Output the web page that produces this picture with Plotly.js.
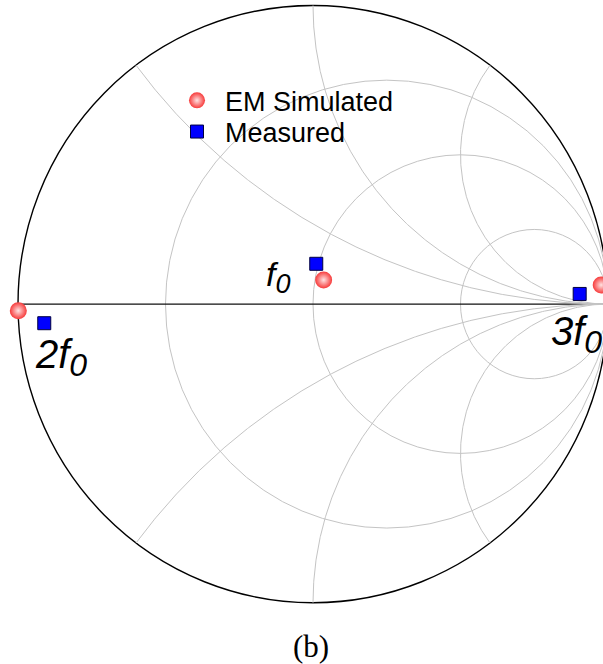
<!DOCTYPE html>
<html>
<head>
<meta charset="utf-8">
<script src="https://cdn.plot.ly/plotly-3.0.1.min.js"></script>
<style>
  html, body { margin: 0; padding: 0; background: #fff; }
  #chart { width: 603px; height: 664px; }
</style>
</head>
<body>
<div id="chart"></div>
<script>
// Smith chart grid values (normalized impedance)
const resistanceGrid = [1 / 3, 1, 3];
const reactanceGrid = [0.5, 1, 2, -0.5, -1, -2];

// Reflection coefficient of the input at f0, 2f0, 3f0
const harmonicNames = ['f0', '2f0', '3f0'];
const harmonicPrefix = ['f', '2f', '3f'];
const simulatedRe = [0.036, -0.999, 0.977];
const simulatedIm = [0.081, -0.022, 0.064];
const measuredRe = [0.011, -0.911, 0.904];
const measuredIm = [0.135, -0.064, 0.034];

// Γ = (z - 1) / (z + 1) for z = r + jx
function gamma(r, x) {
  const d = (r + 1) * (r + 1) + x * x;
  return [(r * r - 1 + x * x) / d, (2 * x) / d];
}

const traces = [];

// constant-reactance arcs
reactanceGrid.forEach(function (x) {
  const gx = [], gy = [];
  const n = 400;
  for (let i = 0; i < n; i++) {
    const r = Math.tan((i / n) * Math.PI / 2);
    const g = gamma(r, x);
    gx.push(g[0]); gy.push(g[1]);
  }
  gx.push(1); gy.push(0);
  traces.push({
    type: 'scatter', mode: 'lines', x: gx, y: gy,
    line: { color: '#c4c4c4', width: 1 },
    hoverinfo: 'skip', showlegend: false
  });
});

// simulated points (shaded spheres)
traces.push({
  type: 'scatter', mode: 'markers', name: 'EM Simulated',
  x: simulatedRe, y: simulatedIm, text: harmonicNames,
  cliponaxis: false,
  marker: {
    symbol: 'circle', size: 17, color: '#f73a3a',
    gradient: { type: 'radial', color: '#ffe2e2' },
    line: { width: 0 }
  },
  legend: 'legend'
});

// measured points (blue squares)
traces.push({
  type: 'scatter', mode: 'markers', name: 'Measured',
  x: measuredRe, y: measuredIm, text: harmonicNames,
  cliponaxis: false,
  marker: {
    symbol: 'square', size: 13, color: '#0000ff',
    line: { color: '#000040', width: 1 }
  },
  legend: 'legend2'
});

const shapes = [];
// constant-resistance circles
resistanceGrid.forEach(function (r) {
  const c = r / (1 + r), rad = 1 / (1 + r);
  shapes.push({
    type: 'circle', xref: 'x', yref: 'y', layer: 'below',
    x0: c - rad, x1: c + rad, y0: -rad, y1: rad,
    line: { color: '#c4c4c4', width: 1 }
  });
});
// real axis
shapes.push({
  type: 'line', xref: 'x', yref: 'y', layer: 'below',
  x0: -1, x1: 1, y0: 0, y1: 0,
  line: { color: '#111', width: 1.2 }
});
// unit circle
shapes.push({
  type: 'circle', xref: 'x', yref: 'y', layer: 'below',
  x0: -1, x1: 1, y0: -1, y1: 1,
  line: { color: '#000', width: 1.4 }
});

const labelFont = { family: 'Liberation Sans, Arial, sans-serif', color: '#000', style: 'italic' };
const W = 603, H = 664;
function px(xp) { return xp / W; }
function py(yp) { return 1 - yp / H; }
function harmonicLabel(i, subSize) {
  return harmonicPrefix[i] + '<sub><span style="font-size:' + subSize + 'px">0</span></sub>';
}

const annotations = [
  { text: harmonicLabel(0, 27), x: px(264), y: py(277), font: Object.assign({ size: 34 }, labelFont) },
  { text: harmonicLabel(1, 32), x: px(33), y: py(357), font: Object.assign({ size: 40 }, labelFont) },
  { text: harmonicLabel(2, 32), x: px(549), y: py(334), font: Object.assign({ size: 40 }, labelFont) },
].map(function (a) {
  return Object.assign({ xref: 'paper', yref: 'paper', xanchor: 'left', yanchor: 'middle', showarrow: false }, a);
});
annotations.push({
  text: '(b)', xref: 'paper', yref: 'paper', x: px(311), y: py(646),
  xanchor: 'center', yanchor: 'middle', showarrow: false,
  font: { family: 'Liberation Serif, Times New Roman, serif', size: 31, color: '#000' }
});

const legendBase = {
  xanchor: 'left', yanchor: 'middle', bgcolor: 'rgba(0,0,0,0)', borderwidth: 0,
  font: { family: 'Liberation Sans, Arial, sans-serif', size: 27, color: '#000' },
  itemwidth: 46
};

const layout = {
  width: W, height: H,
  margin: { l: 0, r: 0, t: 0, b: 0, pad: 0 },
  paper_bgcolor: '#fff', plot_bgcolor: '#fff',
  xaxis: { range: [-313 / 295, 290 / 295], visible: false, fixedrange: true },
  yaxis: { range: [-359.9 / 298.6, 304.1 / 298.6], visible: false, fixedrange: true },
  shapes: shapes,
  annotations: annotations,
  legend: Object.assign({ x: px(169), y: py(100.8) }, legendBase),
  legend2: Object.assign({ x: px(169), y: py(132) }, legendBase),
  showlegend: true
};

Plotly.newPlot('chart', traces, layout, { displayModeBar: false, staticPlot: true });
</script>
</body>
</html>
